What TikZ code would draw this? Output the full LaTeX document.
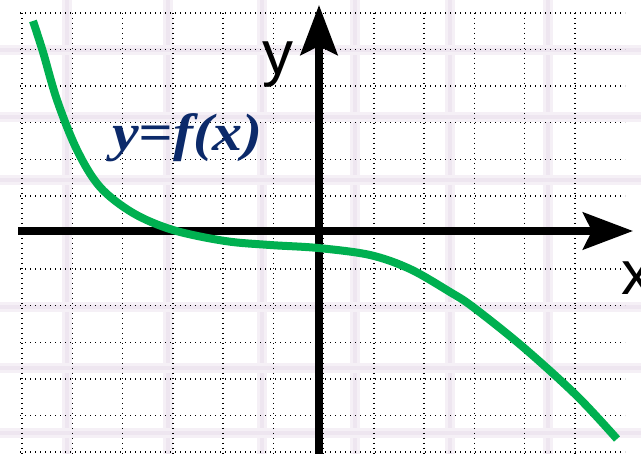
\documentclass[tikz,border=0pt]{standalone}
\usepackage{fontspec}
\setmainfont{Liberation Serif}
\newfontfamily\labfont{Liberation Sans}
\usetikzlibrary{arrows.meta}
\definecolor{curvegreen}{RGB}{0,176,80}
\definecolor{navy}{RGB}{12,42,106}
\definecolor{bandc}{RGB}{245,240,246}
\definecolor{bandd}{RGB}{238,230,240}
\tikzset{
  band/.style={draw=bandc, line width=10pt},
  bandcore/.style={draw=bandd, line width=4pt},
  gridline/.style={line width=1.4pt, dash pattern=on 1.4pt off 3.6pt, black},
  axis/.style={line width=7.5pt, -{Stealth[length=50pt,width=37pt,inset=9pt]}},
  fcurve/.style={draw=curvegreen, line width=8pt, line cap=butt},
  axlabel/.style={font=\labfont\fontsize{62}{62}\selectfont, inner sep=0pt, text=black}
}
\begin{document}
\begin{tikzpicture}[x=1pt,y=-1pt]
\useasboundingbox (0,0) rectangle (641,454);
\fill[white] (0,0) rectangle (641,454);
% faint background bands
\foreach \bx in {67,168,262,355,450,548}
  {\draw[band] (\bx,0) -- (\bx,454); \draw[bandcore] (\bx,0) -- (\bx,454);}
\foreach \by in {50,117,180,307,368,433}
  {\draw[band] (0,\by) -- (641,\by); \draw[bandcore] (0,\by) -- (641,\by);}
% dotted grid
\foreach \k in {0,...,11}
  \draw[gridline] ({22+50.27*\k},13) -- ({22+50.27*\k},454);
\foreach \k in {0,...,12}
  \draw[gridline] (20,{13+36.6*\k}) -- (625,{13+36.6*\k});
% axes
\coordinate (xs) at (18,231);
\coordinate (xe) at (633,231);
\coordinate (ys) at (319,454);
\coordinate (ye) at (319,5);
\draw[axis] (xs) -- (xe);
\draw[axis] (ys) -- (ye);
% curve
\draw[fcurve] plot[smooth, tension=0.55] coordinates {
  (33,21) (43,52) (57,100) (77,150) (100,187) (133,213) (173,230) (225,241)
  (270,245) (318,248) (370,255) (410,269) (450,292) (473,307) (523,347) (577,396) (617,439)};
% labels
\node[axlabel, anchor=base] (ylab) at (278,75) {y};
\node[axlabel, anchor=base west] (xlab) at (621,295) {x};
\node[anchor=base west, inner sep=0pt, text=navy] (flab) at (112,151)
  {\scalebox{1.2}[1.05]{\fontsize{50}{50}\selectfont\bfseries\itshape y=f(x)}};
\end{tikzpicture}
\end{document}
